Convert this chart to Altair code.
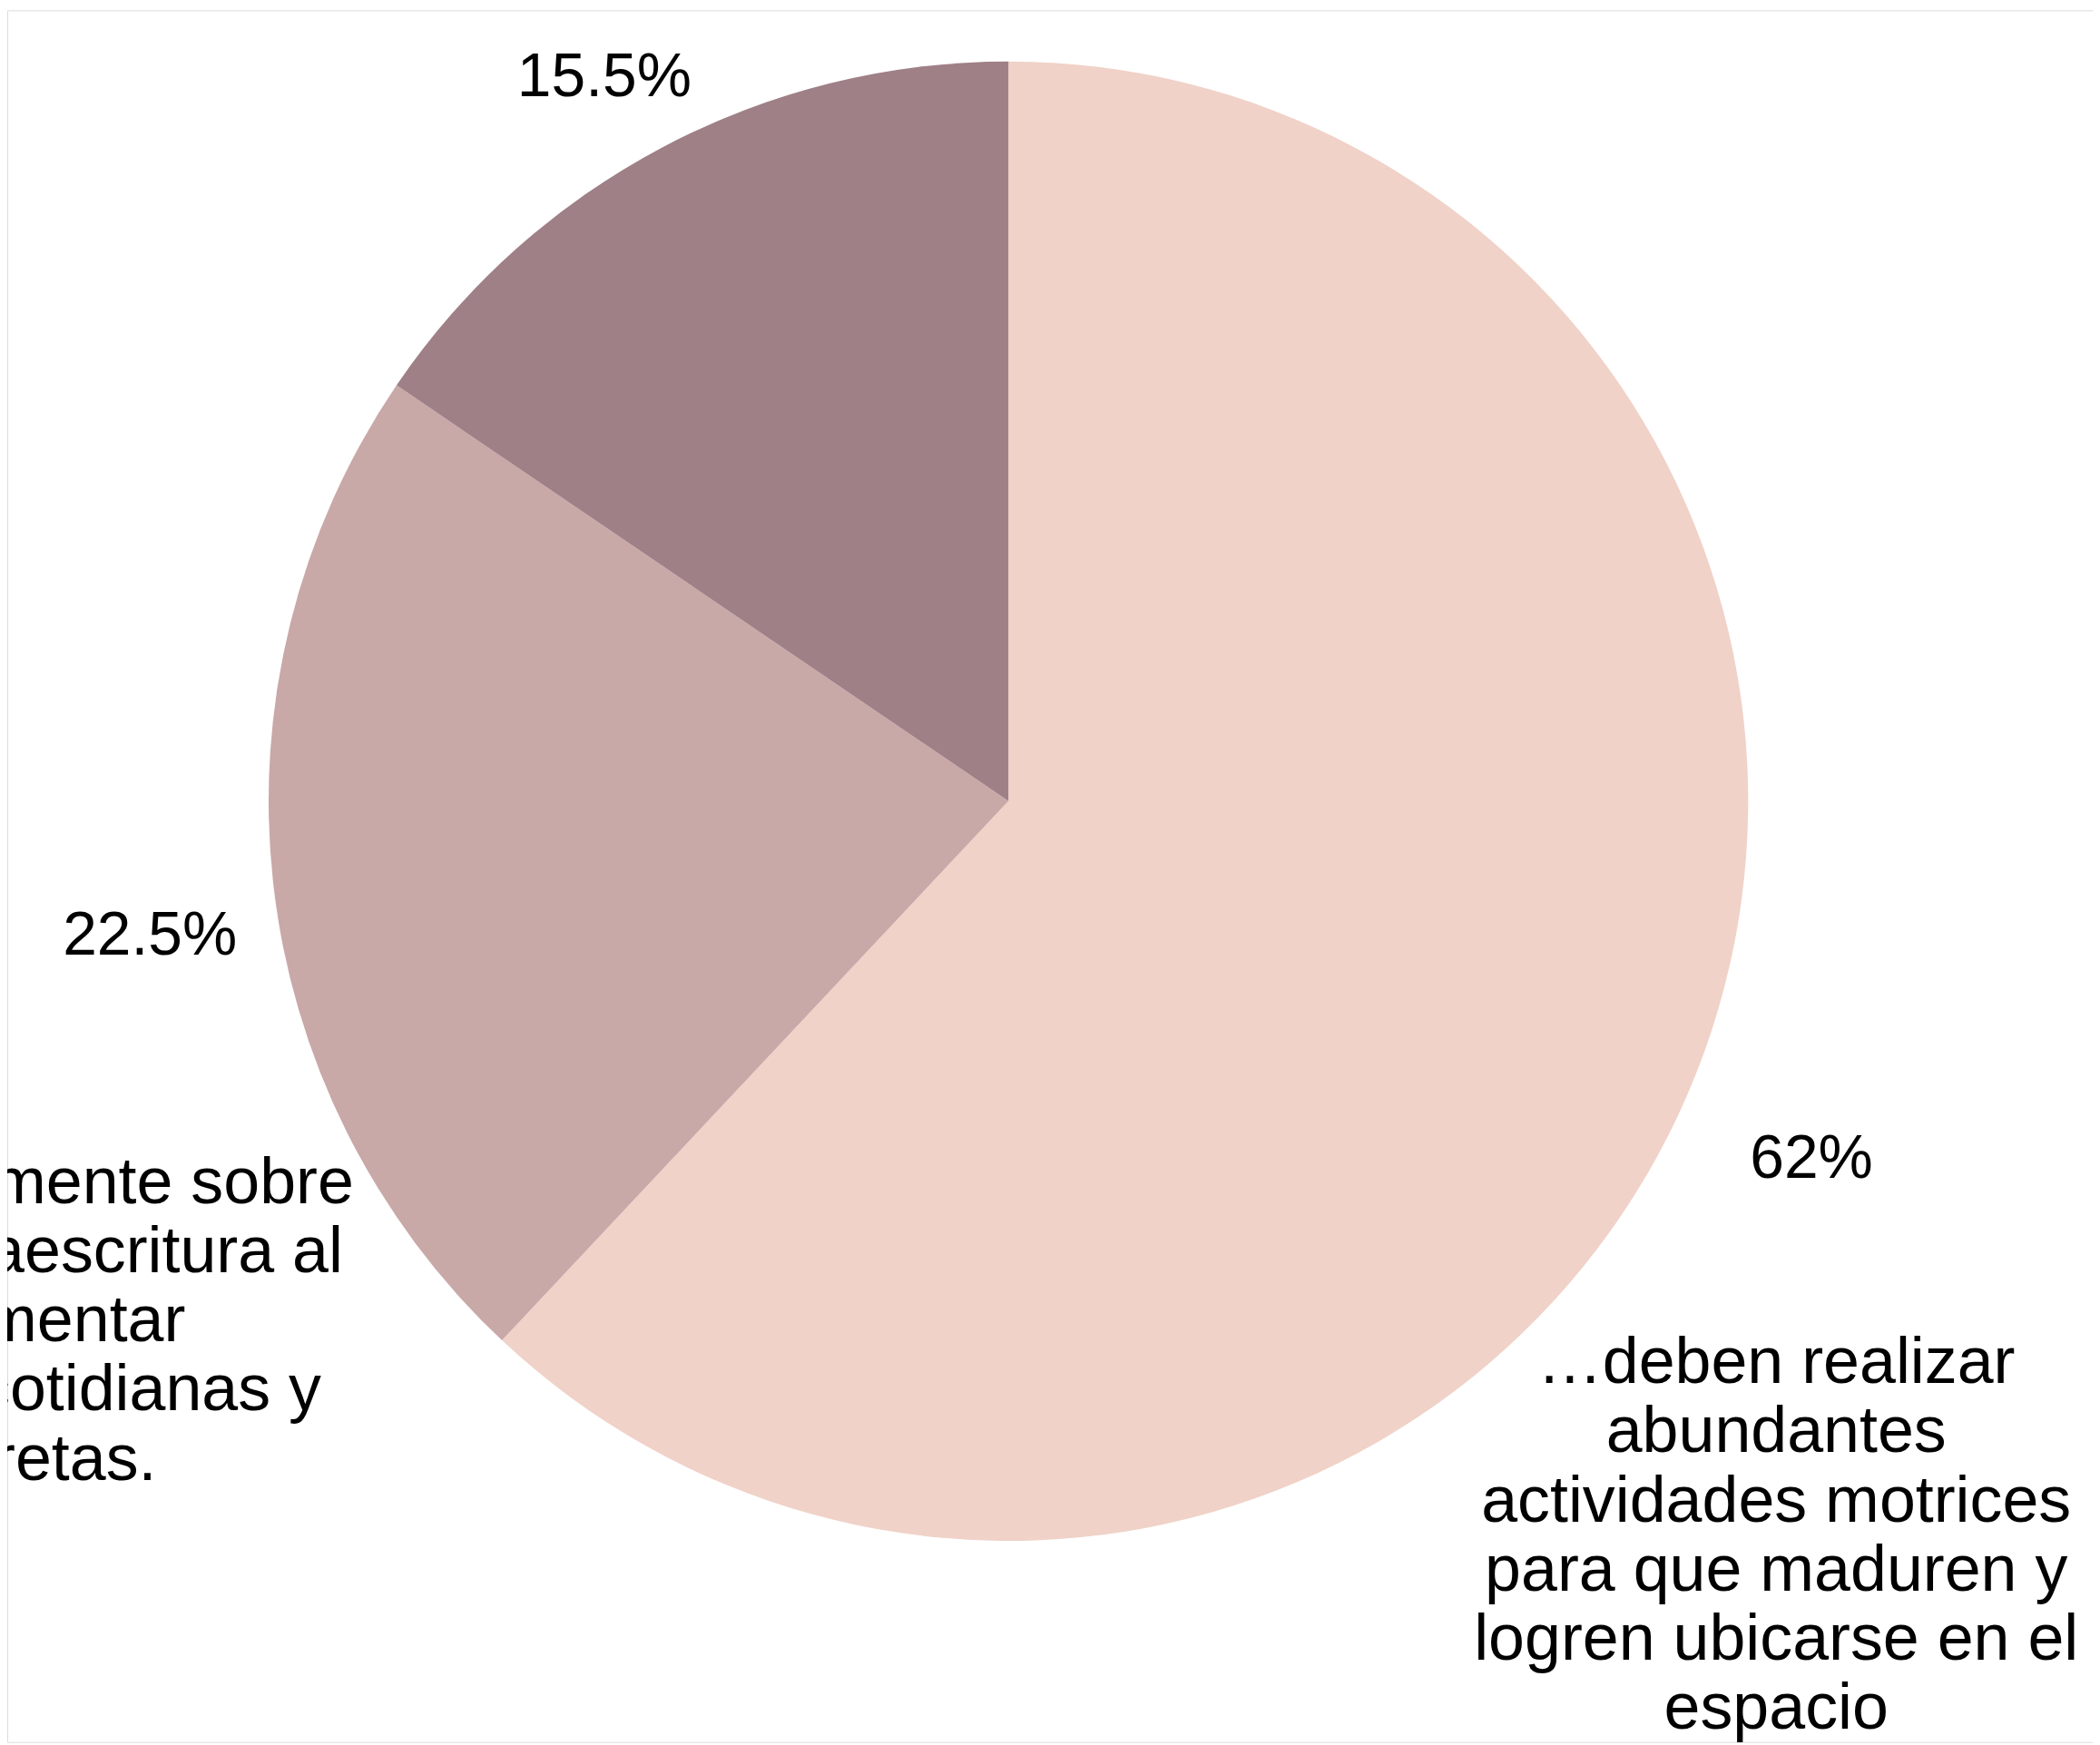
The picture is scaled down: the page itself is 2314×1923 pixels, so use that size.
import altair as alt
import pandas as pd

# Data
categories = ["deben_realizar", "trabajar_lectoescritura", "otra"]
values = [62.0, 22.5, 15.5]
pct_labels = ["62%", "22.5%", "15.5%"]
order = [1, 2, 3]
colors = ["#F0D2C8", "#C9A8A8", "#9F8087"]

label_right = ["…deben realizar", "abundantes", "actividades motrices",
               "para que maduren y", "logren ubicarse en el", "espacio"]
label_left = ["…exclusivamente sobre", "en la lecturaescritura al", "implementar",
              "vivencias cotidianas y", "concretas."]

df = pd.DataFrame({"cat": categories, "value": values, "pct": pct_labels, "ord": order})

W, H = 2306, 1915
CX, CY = 1107, 874.5
R = 818
FONT = "Liberation Sans"

base = alt.Chart(df).encode(
    theta=alt.Theta("value:Q", stack=True),
    order=alt.Order("ord:Q"),
    x=alt.value(CX),
    y=alt.value(CY),
)

pie = base.mark_arc(outerRadius=R, strokeWidth=0).encode(
    color=alt.Color("cat:N", scale=alt.Scale(domain=categories, range=colors), legend=None)
)

pcts = base.mark_text(radius=955, dy=45, fontSize=68, font=FONT, color="#000000",
                      align="center", baseline="middle").encode(text="pct:N")

right_txt = alt.Chart(pd.DataFrame({"t": [label_right]})).mark_text(
    fontSize=72, font=FONT, color="#000000", align="center", baseline="alphabetic",
    lineHeight=76.5
).encode(text="t", x=alt.value(1956), y=alt.value(1518))

left_txt = alt.Chart(pd.DataFrame({"t": [label_left]})).mark_text(
    fontSize=72, font=FONT, color="#000000", align="center", baseline="alphabetic",
    lineHeight=76.5
).encode(text="t", x=alt.value(-1), y=alt.value(1319))

chart = alt.layer(pie, pcts, right_txt, left_txt).properties(
    width=W, height=H, autosize=alt.AutoSizeParams(type="none"), padding=0
).configure_view(strokeWidth=0).configure(background="#FFFFFF")

chart.save("out.html", embed_options={"renderer": "svg", "actions": False})
